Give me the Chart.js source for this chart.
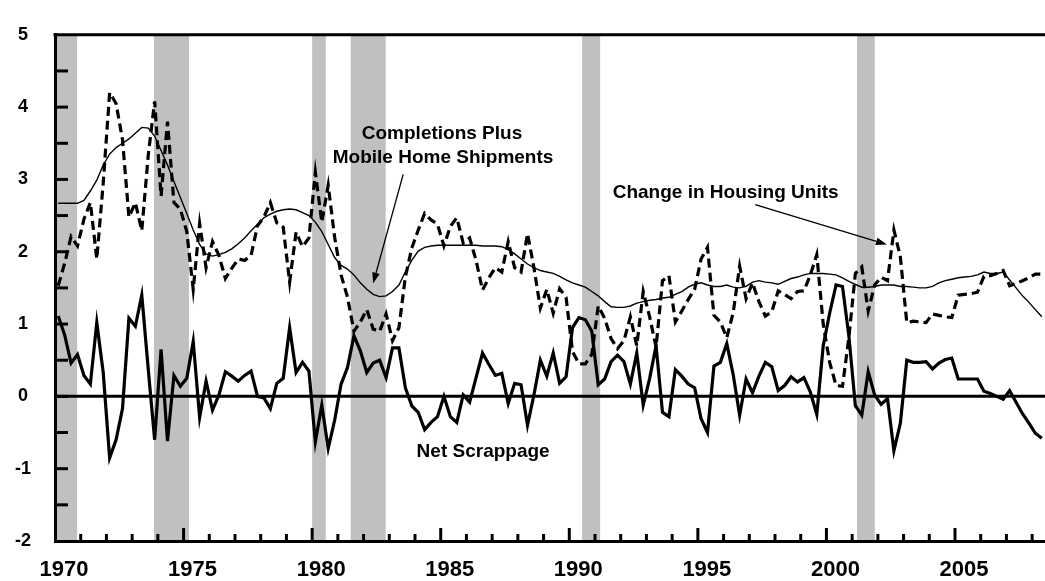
<!DOCTYPE html>
<html><head><meta charset="utf-8">
<script src="https://cdn.jsdelivr.net/npm/chart.js@4.4.1/dist/chart.umd.min.js"></script>
<style>html,body{margin:0;padding:0;background:#fff}#wrap{width:1045px;height:581px;position:relative}</style>
</head><body><div id="wrap"><canvas id="c" width="1045" height="581"></canvas></div>
<script>
// Quarterly series, 1970Q1 .. 2008Q2 (percent)
const startYear = 1970;
const netScrappage = [
 1.11,0.85,0.46,0.58, 0.29,0.17,1.02,0.33, -0.85,-0.6,-0.17,1.08, 0.97,1.4,0.38,-0.6,
 0.65,-0.62,0.29,0.14, 0.25,0.76,-0.29,0.21, -0.19,0.02,0.34,0.28, 0.21,0.29,0.35,0.0,
 -0.02,-0.17,0.18,0.25, 0.95,0.33,0.47,0.35, -0.63,-0.12,-0.72,-0.33, 0.17,0.4,0.84,0.63,
 0.33,0.46,0.5,0.26, 0.67,0.67,0.12,-0.13, -0.22,-0.46,-0.36,-0.28, 0.0,-0.28,-0.36,0.02,
 -0.08,0.26,0.6,0.44, 0.29,0.32,-0.1,0.18, 0.16,-0.4,0.02,0.5, 0.28,0.6,0.18,0.27,
 0.95,1.09,1.06,0.9, 0.16,0.24,0.48,0.57, 0.48,0.17,0.6,-0.12, 0.25,0.7,-0.22,-0.28,
 0.37,0.28,0.17,0.12, -0.31,-0.5,0.42,0.47, 0.73,0.3,-0.26,0.24, 0.05,0.28,0.47,0.41,
 0.08,0.15,0.27,0.2, 0.26,0.06,-0.25,0.7, 1.15,1.54,1.52,0.83, -0.13,-0.26,0.34,0.02,
 -0.11,-0.03,-0.75,-0.37, 0.5,0.47,0.47,0.48, 0.38,0.46,0.51,0.53, 0.24,0.24,0.24,0.24,
 0.07,0.04,0.0,-0.04, 0.08,-0.08,-0.24,-0.37, -0.51,-0.58
];
const completionsPlusMobileHomes = [
 2.67,2.67,2.67,2.67, 2.71,2.84,2.99,3.2, 3.35,3.44,3.5,3.56, 3.64,3.72,3.71,3.6,
 3.4,3.2,2.97,2.75, 2.53,2.3,2.1,1.97, 1.94,1.96,1.99,2.04, 2.11,2.19,2.29,2.38,
 2.47,2.52,2.56,2.58, 2.59,2.58,2.54,2.5, 2.41,2.28,2.1,1.92, 1.81,1.76,1.68,1.57,
 1.48,1.41,1.38,1.39, 1.45,1.54,1.72,1.88, 2.01,2.06,2.08,2.09, 2.09,2.09,2.09,2.09,
 2.09,2.09,2.08,2.08, 2.08,2.07,2.03,1.97, 1.9,1.83,1.78,1.74, 1.72,1.7,1.66,1.61,
 1.57,1.54,1.51,1.45, 1.39,1.31,1.24,1.23, 1.23,1.25,1.29,1.31, 1.33,1.34,1.36,1.37,
 1.41,1.45,1.51,1.55, 1.57,1.54,1.52,1.52, 1.54,1.51,1.5,1.52, 1.58,1.6,1.58,1.57,
 1.55,1.59,1.63,1.65, 1.68,1.7,1.7,1.7, 1.69,1.68,1.64,1.59, 1.55,1.51,1.51,1.52,
 1.54,1.54,1.54,1.52, 1.52,1.51,1.5,1.5, 1.52,1.57,1.6,1.62, 1.64,1.65,1.66,1.68,
 1.72,1.7,1.7,1.72, 1.61,1.5,1.39,1.3, 1.2,1.1
];
const changeInHousingUnits = [
 1.53,1.84,2.21,2.08, 2.45,2.68,1.9,2.95, 4.2,4.05,3.55,2.48, 2.68,2.29,3.33,4.08,
 2.77,3.8,2.68,2.59, 2.28,1.48,2.39,1.78, 2.14,1.95,1.63,1.77, 1.9,1.88,1.95,2.36,
 2.48,2.68,2.4,2.34, 1.58,2.27,2.07,2.19, 3.1,2.41,2.92,2.2, 1.68,1.37,0.9,1.03,
 1.2,0.93,0.9,1.14, 0.77,0.95,1.65,2.05, 2.3,2.53,2.44,2.38, 2.08,2.35,2.47,2.12,
 2.19,1.88,1.47,1.64, 1.78,1.72,2.14,1.78, 1.72,2.25,1.78,1.22, 1.48,1.15,1.49,1.37,
 0.62,0.45,0.45,0.58, 1.25,1.08,0.8,0.66, 0.77,1.1,0.7,1.45, 1.1,0.68,1.6,1.67,
 1.03,1.18,1.34,1.48, 1.9,2.06,1.12,1.03, 0.81,1.16,1.8,1.35, 1.57,1.31,1.11,1.17,
 1.46,1.41,1.35,1.45, 1.46,1.68,1.96,1.0, 0.47,0.15,0.14,0.82, 1.7,1.79,1.18,1.54,
 1.65,1.6,2.3,1.93, 1.02,1.04,1.03,1.02, 1.14,1.12,1.1,1.09, 1.4,1.41,1.42,1.44,
 1.66,1.67,1.7,1.74, 1.53,1.56,1.6,1.64, 1.69,1.69
];
const xTickYears = [1970,1975,1980,1985,1990,1995,2000,2005];
const yTickValues = [-2,-1,0,1,2,3,4,5];
const recessionStarts = [1969.92,1973.85,1980.0,1981.5,1990.5,2001.19];
const recessionEnds   = [1970.86,1975.21,1980.53,1982.86,1991.2,2001.88];
const textLabels = [
 {text:'Completions Plus', x:1985.05, y:3.56},
 {text:'Mobile Home Shipments', x:1985.09, y:3.23},
 {text:'Change in Housing Units', x:1996.08, y:2.75},
 {text:'Net Scrappage', x:1986.65, y:-0.84}
];
const arrows = [
 {x0:1983.54, y0:3.07, x1:1982.37, y1:1.56},
 {x0:1997.23, y0:2.65, x1:2002.35, y1:2.10}
];

const FONT = "'Liberation Sans', Arial, Helvetica, sans-serif";
const toXY = arr => arr.map((v,i) => ({x: startYear + 0.125 + 0.25*i, y: v}));

const decor = {
  id: 'decor',
  beforeDraw(chart) {
    const {ctx, chartArea: a, scales: {x}} = chart;
    ctx.save();
    ctx.fillStyle = '#fff';
    ctx.fillRect(0, 0, chart.width, chart.height);
    ctx.fillStyle = '#c0c0c0';
    for (let i = 0; i < recessionStarts.length; i++) {
      const x0 = Math.max(a.left, x.getPixelForValue(recessionStarts[i]));
      const x1 = Math.min(a.right, x.getPixelForValue(recessionEnds[i]));
      ctx.fillRect(x0, a.top, x1 - x0, a.bottom - a.top);
    }
    ctx.restore();
  },
  beforeDatasetsDraw(chart) {
    const {ctx, chartArea: a, scales: {x, y}} = chart;
    ctx.save();
    ctx.strokeStyle = '#000';
    // zero line
    ctx.lineWidth = 3;
    const y0 = y.getPixelForValue(0);
    ctx.beginPath(); ctx.moveTo(a.left, y0); ctx.lineTo(a.right, y0); ctx.stroke();
    // top border
    ctx.beginPath(); ctx.moveTo(a.left - 1.5, a.top); ctx.lineTo(a.right, a.top); ctx.stroke();
    // x ticks (inside)
    ctx.lineWidth = 3;
    for (let yr = 1971; yr <= 2008; yr++) {
      const px = x.getPixelForValue(yr);
      const len = yr % 5 === 0 ? 13 : 7;
      ctx.beginPath(); ctx.moveTo(px, a.bottom); ctx.lineTo(px, a.bottom - len); ctx.stroke();
    }
    // y ticks (inside)
    for (let v = -1.5; v < 5; v += 0.5) {
      const py = y.getPixelForValue(v);
      ctx.beginPath(); ctx.moveTo(a.left, py); ctx.lineTo(a.left + 13, py); ctx.stroke();
    }
    ctx.restore();
  },
  afterDatasetsDraw(chart) {
    const {ctx, scales: {x, y}} = chart;
    ctx.save();
    ctx.fillStyle = '#000';
    ctx.font = "bold 19px " + FONT;
    ctx.textAlign = 'center';
    ctx.textBaseline = 'alphabetic';
    textLabels.forEach(t => ctx.fillText(t.text, x.getPixelForValue(t.x), y.getPixelForValue(t.y)));
    ctx.strokeStyle = '#000';
    ctx.lineWidth = 1.3;
    arrows.forEach(ar => {
      const sx = x.getPixelForValue(ar.x0), sy = y.getPixelForValue(ar.y0);
      const ex = x.getPixelForValue(ar.x1), ey = y.getPixelForValue(ar.y1);
      const ang = Math.atan2(ey - sy, ex - sx);
      const L = 11, W = 3.8;
      const bx = ex - L * Math.cos(ang), by = ey - L * Math.sin(ang);
      ctx.beginPath(); ctx.moveTo(sx, sy); ctx.lineTo(bx, by); ctx.stroke();
      ctx.beginPath();
      ctx.moveTo(ex, ey);
      ctx.lineTo(bx + W * Math.sin(ang), by - W * Math.cos(ang));
      ctx.lineTo(bx - W * Math.sin(ang), by + W * Math.cos(ang));
      ctx.closePath(); ctx.fill();
    });
    ctx.restore();
  }
};

new Chart(document.getElementById('c'), {
  type: 'line',
  data: {
    datasets: [
      {label: 'Net Scrappage', data: toXY(netScrappage), borderColor: '#000', borderWidth: 3.2,
       pointRadius: 0, tension: 0, borderJoinStyle: 'miter', fill: false},
      {label: 'Change in Housing Units', data: toXY(changeInHousingUnits), borderColor: '#000', borderWidth: 3.2,
       borderDash: [9, 5], pointRadius: 0, tension: 0, borderJoinStyle: 'miter', fill: false},
      {label: 'Completions Plus Mobile Home Shipments', data: toXY(completionsPlusMobileHomes), borderColor: '#000',
       borderWidth: 1.4, pointRadius: 0, tension: 0, fill: false}
    ]
  },
  options: {
    responsive: false, animation: false, devicePixelRatio: 1,
    layout: {padding: {top: 18, right: 0, bottom: 0, left: 0}},
    plugins: {legend: {display: false}, tooltip: {enabled: false}},
    scales: {
      x: {
        type: 'linear', min: 1970, max: 2008.5,
        grid: {display: false, drawTicks: false},
        border: {display: true, color: '#000', width: 3},
        afterBuildTicks: s => { s.ticks = xTickYears.map(v => ({value: v})); },
        afterFit: s => { s.height = 40; },
        ticks: {autoSkip: false, maxRotation: 0, minRotation: 0, padding: 16, labelOffset: 9, color: '#000',
          font: {family: FONT, size: 22, weight: 'bold'}, callback: v => String(v)}
      },
      y: {
        min: -2, max: 5,
        grid: {display: false, drawTicks: false},
        border: {display: true, color: '#000', width: 3},
        afterBuildTicks: s => { s.ticks = yTickValues.map(v => ({value: v})); },
        afterFit: s => { s.width = 55; },
        ticks: {crossAlign: 'center', padding: 24, color: '#000',
          font: {family: FONT, size: 18, weight: 'bold'}, callback: v => String(v)}
      }
    }
  },
  plugins: [decor]
});
</script></body></html>
